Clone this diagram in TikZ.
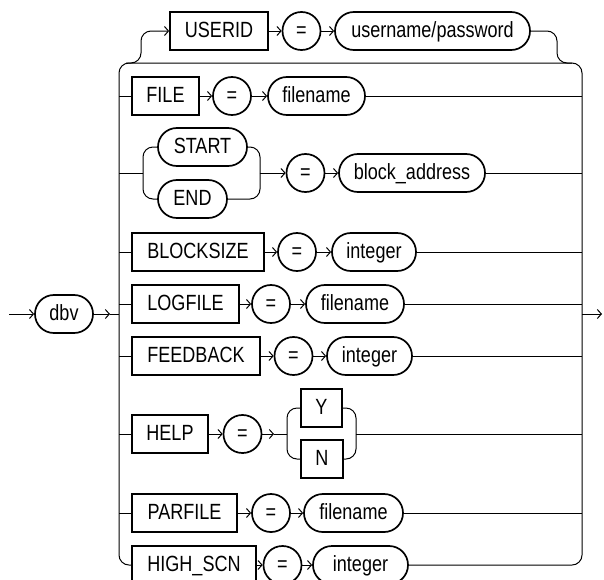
\documentclass[tikz,border=0pt]{standalone}
\usepackage{fontspec}
\setmainfont{Liberation Sans}[FakeStretch=0.82]
\usetikzlibrary{arrows.meta}
\begin{document}
\begin{tikzpicture}[x=1pt,y=-1pt,line width=1pt,
  >={Straight Barb[length=4pt,width=9pt]},
  font=\fontsize{22}{26}\selectfont,
  kw/.style={draw,line width=1.7pt,rectangle,minimum height=38pt,inner sep=0pt,text height=17pt,text depth=5pt},
  nt/.style={kw,rounded corners=18.9pt},
  rc/.style={rounded corners=10pt}]
\clip (0,0) rectangle (604,579);
\coordinate (LR) at (119,0);
\coordinate (RR) at (582,0);
% nodes
\node[nt,minimum width=58pt] (dbv) at (64,314) {dbv};
\node[kw,minimum width=98pt] (USERID) at (219,31) {USERID};
\node[nt,minimum width=38pt] (eq1) at (301.5,31) {=};
\node[nt,minimum width=195pt] (up) at (432.5,31) {username/password};
\node[kw,minimum width=67pt] (FILE) at (165.5,96) {FILE};
\node[nt,minimum width=38pt] (eq2) at (232,96) {=};
\node[nt,minimum width=97pt] (fn1) at (316.5,96) {filename};
\node[nt,minimum width=89pt] (START) at (202.5,147) {START};
\node[nt,minimum width=69pt] (END) at (192.5,199) {END};
\node[nt,minimum width=38pt] (eq3) at (305.5,173) {=};
\node[nt,minimum width=146pt] (ba) at (412,173) {block\_address};
\node[kw,minimum width=132pt] (BLOCKSIZE) at (198,252) {BLOCKSIZE};
\node[nt,minimum width=38pt] (eq4) at (297,252) {=};
\node[nt,minimum width=84pt] (int1) at (374,252) {integer};
\node[kw,minimum width=107pt] (LOGFILE) at (185.5,304) {LOGFILE};
\node[nt,minimum width=38pt] (eq5) at (271,304) {=};
\node[nt,minimum width=98pt] (fn2) at (355,304) {filename};
\node[kw,minimum width=128pt] (FEEDBACK) at (196,356) {FEEDBACK};
\node[nt,minimum width=38pt] (eq6) at (293.5,356) {=};
\node[nt,minimum width=85pt] (int2) at (369.5,356) {integer};
\node[kw,minimum width=76pt] (HELP) at (170,434) {HELP};
\node[nt,minimum width=38pt] (eq7) at (242.5,434) {=};
\node[kw,minimum width=41pt] (Y) at (321.5,408) {Y};
\node[kw,minimum width=42pt] (N) at (322,459) {N};
\node[kw,minimum width=105pt] (PARFILE) at (184.5,513) {PARFILE};
\node[nt,minimum width=38pt] (eq8) at (271,513) {=};
\node[nt,minimum width=99pt] (fn3) at (353.5,513) {filename};
\node[kw,minimum width=124pt] (HIGH) at (194,565) {HIGH\_SCN};
\node[nt,minimum width=38pt] (eq9) at (282.5,565) {=};
\node[nt,minimum width=95pt] (int3) at (360.5,565) {integer};
% entry and exit
\coordinate (in) at (9,314);
\coordinate (d1) at (110,314);
\coordinate (out) at (602,314);
\draw[->] (in) -- (dbv);
\draw[->] (dbv) -- (d1);
\draw (d1) -- (d1 -| LR);
\draw[->] (out -| RR) -- (out);
% rails
\draw[rc] (HIGH.west) -| (119,63) -- (582,63) |- (int3.east);
% USERID branch
\coordinate (u1) at (126,63);
\coordinate (u2) at (141,31);
\coordinate (u3) at (557,63);
\coordinate (u4) at (572,63);
\draw[rc,->] (u1) -| (u2) -- (USERID.west);
\draw[->] (USERID) -- (eq1);
\draw[->] (eq1) -- (up);
\draw[rc] (up.east) -| (u3) -- (u4);
% FILE
\draw (FILE.west -| LR) -- (FILE);
\draw[->] (FILE) -- (eq2);
\draw[->] (eq2) -- (fn1);
\draw (fn1) -- (fn1 -| RR);
% START / END
\coordinate (s1) at (143,173);
\coordinate (s2) at (260,173);
\draw (s1 -| LR) -- (s1);
\draw[rc] (s1) |- (START.west);
\draw[rc] (s1) |- (END.west);
\draw[rc] (START.east) -| (s2);
\draw[rc] (END.east) -| (s2);
\draw[->] (s2) -- (eq3);
\draw[->] (eq3) -- (ba);
\draw (ba) -- (ba -| RR);
% BLOCKSIZE
\draw (BLOCKSIZE.west -| LR) -- (BLOCKSIZE);
\draw[->] (BLOCKSIZE) -- (eq4);
\draw[->] (eq4) -- (int1);
\draw (int1) -- (int1 -| RR);
% LOGFILE
\draw (LOGFILE.west -| LR) -- (LOGFILE);
\draw[->] (LOGFILE) -- (eq5);
\draw[->] (eq5) -- (fn2);
\draw (fn2) -- (fn2 -| RR);
% FEEDBACK
\draw (FEEDBACK.west -| LR) -- (FEEDBACK);
\draw[->] (FEEDBACK) -- (eq6);
\draw[->] (eq6) -- (int2);
\draw (int2) -- (int2 -| RR);
% HELP
\coordinate (h1) at (274,434);
\coordinate (h2) at (287,434);
\coordinate (h3) at (356,434);
\draw (HELP.west -| LR) -- (HELP);
\draw[->] (HELP) -- (eq7);
\draw[->] (eq7) -- (h1);
\draw (h1) -- (h2);
\draw[rc] (h2) |- (Y.west);
\draw[rc] (h2) |- (N.west);
\draw[rc] (Y.east) -| (h3);
\draw[rc] (N.east) -| (h3);
\draw (h3) -- (h3 -| RR);
% PARFILE
\draw (PARFILE.west -| LR) -- (PARFILE);
\draw[->] (PARFILE) -- (eq8);
\draw[->] (eq8) -- (fn3);
\draw (fn3) -- (fn3 -| RR);
% HIGH_SCN
\draw[->] (HIGH) -- (eq9);
\draw[->] (eq9) -- (int3);
\end{tikzpicture}
\end{document}
